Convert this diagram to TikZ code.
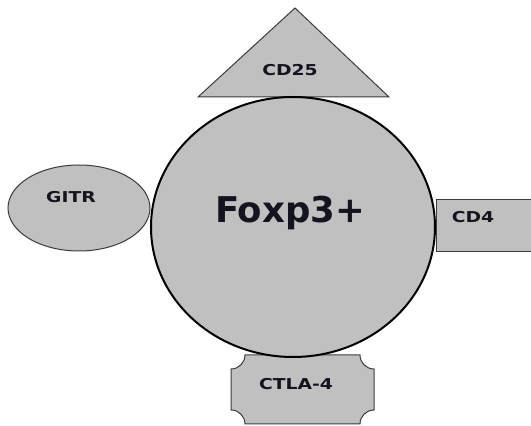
\documentclass[tikz,border=0pt]{standalone}
\usepackage{fontspec}
\newfontfamily\lblfont[FakeStretch=1.25]{DejaVu Sans}
\newfontfamily\bigfont{DejaVu Sans}
\definecolor{shapegray}{RGB}{192,192,192}
\definecolor{edgegray}{RGB}{60,60,60}
\definecolor{txt}{RGB}{20,20,30}
\tikzset{
  part/.style={fill=shapegray, draw=edgegray, line width=1pt},
  cell/.style={fill=shapegray, draw=black, line width=2pt},
  lbl/.style={font=\lblfont\bfseries\fontsize{15}{18}\selectfont, text=txt, inner sep=0pt, anchor=base},
  big/.style={font=\bigfont\bfseries\fontsize{35.5}{40}\selectfont, text=txt, inner sep=0pt, anchor=base}
}
\begin{document}
\begin{tikzpicture}[x=1pt,y=1pt]
\useasboundingbox (0,0) rectangle (531,426);
\fill[white] (0,0) rectangle (531,426);
% CD25 triangle
\draw[part] (295,418) -- (389,329) -- (198,329) -- cycle;
% GITR ellipse
\draw[part] (79,218) ellipse [x radius=71, y radius=43];
% CD4 rectangle
\begin{scope}
\clip (0,0) rectangle (531,426);
\draw[part] (436,226) rectangle (545,174);
\end{scope}
% CTLA-4 plaque
\draw[part] (245,71) -- (360,71) arc[start angle=180, end angle=270, radius=14]
  -- (374,16) arc[start angle=90, end angle=180, radius=14]
  -- (245,2) arc[start angle=0, end angle=90, radius=14]
  -- (231,57) arc[start angle=270, end angle=360, radius=14] -- cycle;
% Foxp3+ cell
\draw[cell] (293,199) ellipse [x radius=142, y radius=130];
% labels
\node[lbl] (cd25) at (290,350) {CD25};
\node[lbl] (gitr) at (71,223) {GITR};
\node[lbl] (cd4) at (473,203) {CD4};
\node[lbl] (ctla) at (296,36) {CTLA-4};
\node[big] (foxp) at (290,203) {Foxp3+};
\end{tikzpicture}
\end{document}
